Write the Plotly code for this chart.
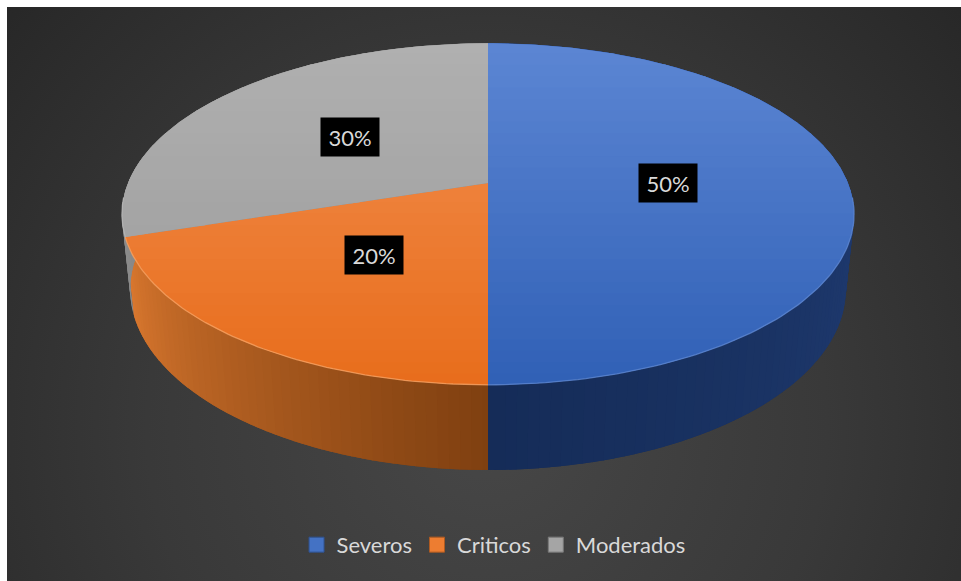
import base64
import numpy as np
import plotly.graph_objects as go

# ---- data -------------------------------------------------------------
categories = ["Severos", "Criticos", "Moderados"]
shares = [50, 20, 30]
label_texts = ["50%", "20%", "30%"]

# ---- styling ------------------------------------------------------------
legend_colors = ["#4472c4", "#ed7d31", "#a5a5a5"]
legend_edges = ["#2f528f", "#ae5a21", "#787878"]
# top face: colour at the far edge, colour at the near edge
top_colors = [("#5c86d3", "#3060b6"), ("#f28f50", "#e86d1c"), ("#b0b0b0", "#9a9a9a")]
# side wall: colour at the slice start angle, colour at the end angle
side_colors = [("#2b4b8c", "#152c58"), ("#7e3f10", "#da782f"), ("#8e8e8e", "#6c6c6c")]
rim_colors = ["#5d86d0", "#f7a263", "#b8b8b8"]

# ---- 3-D pie geometry (screen pixels) ----------------------------------
CX, CY = 488.0, 183.0      # pie centre
RADIUS = 360.0
TILT = np.radians(27.3)    # elevation of the eye above the pie plane
DIST = 4.89                # eye distance, in radii
DEPTH = 0.238              # pie thickness, in radii


def project(theta_deg, rho, height):
    t = np.radians(theta_deg)
    X = rho * np.sin(t)
    Z = rho * np.cos(t)
    depth = DIST + Z * np.cos(TILT) - height * np.sin(TILT)
    k = RADIUS * DIST / depth
    return CX + X * k, CY - (height * np.cos(TILT) + Z * np.sin(TILT)) * k


def hex_rgb(h):
    h = h.lstrip("#")
    return np.array([int(h[i:i + 2], 16) for i in (0, 2, 4)], dtype=float)


def mix(c0, c1, t):
    t = float(np.clip(t, 0, 1))
    c = hex_rgb(c0) * (1 - t) + hex_rgb(c1) * t
    return "rgb(%d,%d,%d)" % tuple(np.round(c).astype(int))


def clip_half(pts, f):
    out = []
    n = len(pts)
    for i in range(n):
        p, q = pts[i], pts[(i + 1) % n]
        fp, fq = f(p), f(q)
        if fp >= 0:
            out.append(p)
        if (fp >= 0) != (fq >= 0):
            s = fp / (fp - fq)
            out.append((p[0] + s * (q[0] - p[0]), p[1] + s * (q[1] - p[1])))
    return out


def poly_trace(pts, color):
    xs = [p[0] for p in pts] + [pts[0][0]]
    ys = [p[1] for p in pts] + [pts[0][1]]
    return go.Scatter(x=xs, y=ys, mode="lines", fill="toself", fillcolor=color,
                      line=dict(width=0, color=color), hoverinfo="skip", showlegend=False)


total = float(sum(shares))
bounds = np.concatenate([[0.0], np.cumsum(shares) / total * 360.0])

fig = go.Figure()

# side walls, built from thin vertical quads so the shading can vary
for i in range(len(categories)):
    a0, a1 = bounds[i], bounds[i + 1]
    n = max(int(np.ceil((a1 - a0) / 1.5)), 1)
    edges = np.linspace(a0, a1, n + 1)
    for j in range(n):
        s0 = max(edges[j] - 0.8, a0)
        s1 = min(edges[j + 1] + 0.8, a1)
        arc = np.linspace(s0, s1, 5)
        top = [project(a, 1.0, 0.0) for a in arc]
        bot = [project(a, 1.0, -DEPTH) for a in arc[::-1]]
        t = ((edges[j] + edges[j + 1]) / 2 - a0) / (a1 - a0)
        fig.add_trace(poly_trace(top + bot, mix(side_colors[i][0], side_colors[i][1], t)))

# top faces, split into horizontal bands for a soft vertical gradient
y_far = project(0, 1.0, 0.0)[1]
y_near = project(180, 1.0, 0.0)[1]
n_bands = 30
band_edges = np.linspace(y_far - 1, y_near + 1, n_bands + 1)
for i in range(len(categories)):
    a0, a1 = bounds[i], bounds[i + 1]
    arc = np.linspace(a0, a1, int(a1 - a0) + 2)
    face = [project(0, 0.0, 0.0)] + [project(a, 1.0, 0.0) for a in arc]
    fig.add_trace(poly_trace(face, mix(top_colors[i][0], top_colors[i][1], 0.5)))
    for b in range(n_bands):
        y0, y1 = band_edges[b] - 0.6, band_edges[b + 1] + 0.6
        piece = clip_half(face, lambda p: p[1] - y0)
        if len(piece) < 3:
            continue
        piece = clip_half(piece, lambda p: y1 - p[1])
        if len(piece) < 3:
            continue
        t = ((band_edges[b] + band_edges[b + 1]) / 2 - y_far) / (y_near - y_far)
        fig.add_trace(poly_trace(piece, mix(top_colors[i][0], top_colors[i][1], t)))

# soft highlight along the front rim
for i in range(len(categories)):
    a0, a1 = max(bounds[i], 95.0), min(bounds[i + 1], 265.0)
    if a1 <= a0:
        continue
    arc = np.linspace(a0, a1, 80)
    pts = [project(a, 1.0, 0.0) for a in arc]
    fig.add_trace(go.Scatter(x=[p[0] for p in pts], y=[p[1] for p in pts], mode="lines",
                             line=dict(color=rim_colors[i], width=1.3), opacity=0.8,
                             hoverinfo="skip", showlegend=False))

# legend entries
for name, col, edge in zip(categories, legend_colors, legend_edges):
    fig.add_trace(go.Scatter(x=[None], y=[None], mode="markers", name=name,
                             marker=dict(symbol="square", size=15, color=col,
                                         line=dict(color=edge, width=1))))

# percentage labels
annotations = []
for i, txt in enumerate(label_texts):
    mid = (bounds[i] + bounds[i + 1]) / 2
    lx, ly = project(mid, 0.5, 0.0)
    annotations.append(dict(x=lx, y=ly, xref="x", yref="y", text=txt, showarrow=False,
                            bgcolor="#000000", width=58, height=38, borderpad=0,
                            font=dict(family="Lato", size=22, color="#d9d9d9")))

# dark radial backdrop
svg = ("<svg xmlns='http://www.w3.org/2000/svg' width='954' height='574' viewBox='0 0 954 574' "
       "preserveAspectRatio='none'><defs><radialGradient id='g' cx='480' cy='420' r='680' "
       "gradientUnits='userSpaceOnUse'><stop offset='0' stop-color='#474747'/>"
       "<stop offset='0.5' stop-color='#393939'/><stop offset='1' stop-color='#252525'/>"
       "</radialGradient></defs><rect width='954' height='574' fill='url(#g)'/></svg>")
bg_src = "data:image/svg+xml;base64," + base64.b64encode(svg.encode()).decode()

fig.update_layout(
    width=961, height=581,
    margin=dict(l=7, t=7, r=0, b=0, pad=0),
    paper_bgcolor="#ffffff",
    plot_bgcolor="#2f2f2f",
    images=[dict(source=bg_src, xref="paper", yref="paper", x=0, y=1, sizex=1, sizey=1,
                 sizing="stretch", xanchor="left", yanchor="top", layer="below")],
    xaxis=dict(range=[7, 961], visible=False, fixedrange=True),
    yaxis=dict(range=[581, 7], visible=False, fixedrange=True),
    annotations=annotations,
    showlegend=True,
    legend=dict(orientation="h", x=0.51, xanchor="center", y=0.063, yanchor="middle",
                font=dict(family="Lato", size=22, color="#d9d9d9"),
                bgcolor="rgba(0,0,0,0)", itemclick=False, itemdoubleclick=False),
)

fig.write_html("out.html")
